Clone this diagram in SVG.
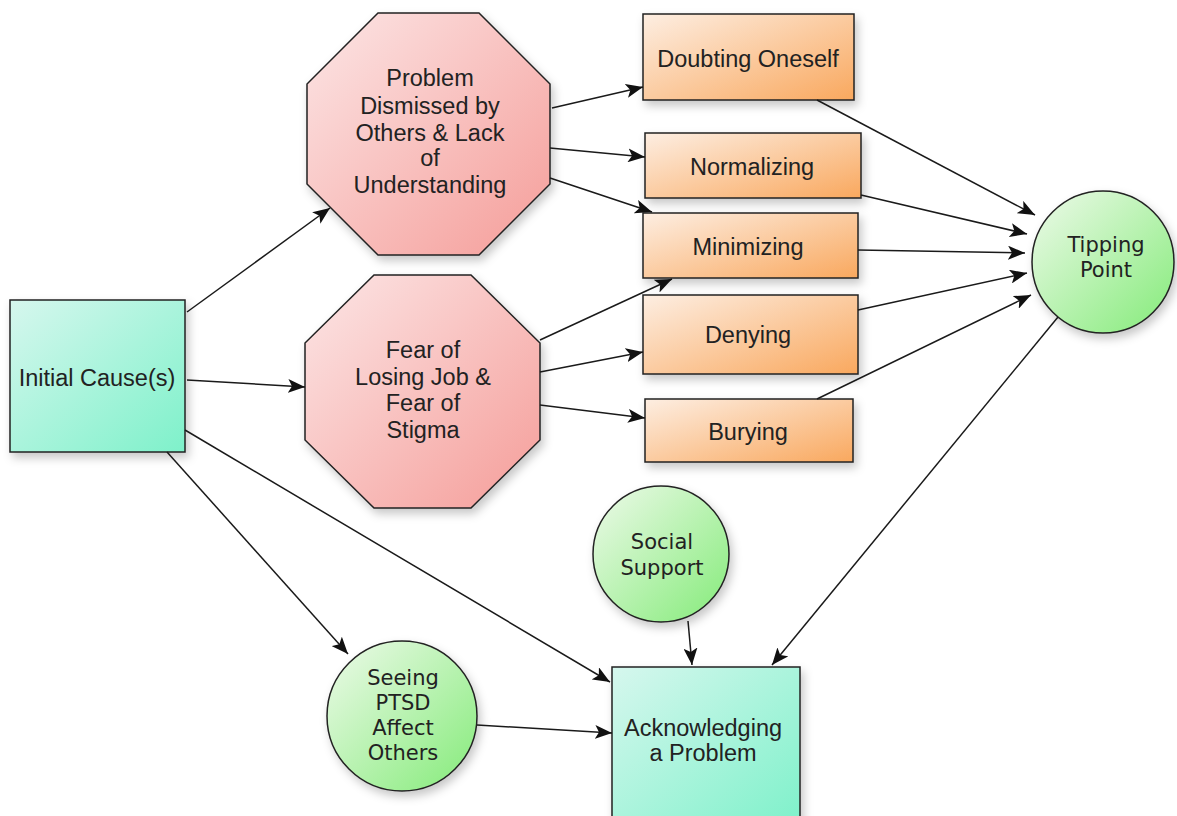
<svg xmlns="http://www.w3.org/2000/svg" width="1177" height="816" viewBox="0 0 1177 816">
<defs>
<linearGradient id="gTeal" x1="0" y1="0" x2="1" y2="1"><stop offset="0" stop-color="#d6f7ee"/><stop offset="1" stop-color="#7ef1ca"/></linearGradient>
<linearGradient id="gPink" x1="0" y1="0" x2="1" y2="1"><stop offset="0" stop-color="#fce6e6"/><stop offset="1" stop-color="#f59d99"/></linearGradient>
<linearGradient id="gOrange" x1="0" y1="0" x2="1" y2="1"><stop offset="0" stop-color="#fdeee2"/><stop offset="1" stop-color="#f9a85e"/></linearGradient>
<linearGradient id="gGreen" x1="0" y1="0" x2="1" y2="1"><stop offset="0" stop-color="#eefaea"/><stop offset="1" stop-color="#84eb79"/></linearGradient>
<filter id="sh" x="-20%" y="-20%" width="150%" height="150%"><feDropShadow dx="3" dy="5" stdDeviation="5" flood-color="#000" flood-opacity="0.22"/></filter>
<marker id="arr" markerUnits="userSpaceOnUse" markerWidth="18" markerHeight="14" refX="17" refY="7" orient="auto"><path d="M0,0 L17,7 L0,14 L4,7 z" fill="#111"/></marker>
<style>
.box{stroke:#222;stroke-width:1.5;filter:url(#sh)}
.teal{fill:url(#gTeal)}
.pink{fill:url(#gPink)}
.orange{fill:url(#gOrange)}
.green{fill:url(#gGreen)}
.t{font-family:"Liberation Sans",Arial,sans-serif;font-size:23.5px;fill:#222;text-anchor:middle}
.tc{font-family:"DejaVu Sans","Liberation Sans",sans-serif;font-size:21px;fill:#222;text-anchor:middle}
.c line{stroke:#1a1a1a;stroke-width:1.5;marker-end:url(#arr)}
</style>
</defs>
<rect width="1177" height="816" fill="#fff"/>
<g id="initial"><rect class="box teal" x="10" y="300" width="175" height="152"/><text class="t" x="97" y="386">Initial Cause(s)</text></g>
<g id="dismissed"><polygon class="box pink" points="378,13 479,13 550,84 550,184 479,255 378,255 307,184 307,84"/>
<text class="t" x="430" y="86">Problem</text><text class="t" x="430" y="114">Dismissed by</text><text class="t" x="430" y="141">Others &amp; Lack</text><text class="t" x="430" y="166">of</text><text class="t" x="430" y="193">Understanding</text></g>
<g id="fear"><polygon class="box pink" points="374,275 471,275 540,343 540,440 471,508 374,508 305,440 305,343"/>
<text class="t" x="423" y="358">Fear of</text><text class="t" x="423" y="385">Losing Job &amp;</text><text class="t" x="423" y="411">Fear of</text><text class="t" x="423" y="438">Stigma</text></g>
<g id="doubting"><rect class="box orange" x="643" y="14" width="211" height="86"/><text class="t" x="748" y="67">Doubting Oneself</text></g>
<g id="normalizing"><rect class="box orange" x="645" y="133" width="216" height="65"/><text class="t" x="752" y="175">Normalizing</text></g>
<g id="minimizing"><rect class="box orange" x="643" y="213" width="215" height="65"/><text class="t" x="748" y="255">Minimizing</text></g>
<g id="denying"><rect class="box orange" x="643" y="295" width="215" height="79"/><text class="t" x="748" y="343">Denying</text></g>
<g id="burying"><rect class="box orange" x="645" y="399" width="208" height="63"/><text class="t" x="748" y="440">Burying</text></g>
<g id="tipping"><circle class="box green" cx="1103" cy="262" r="71"/><text class="tc" x="1106" y="252">Tipping</text><text class="tc" x="1106" y="277">Point</text></g>
<g id="social"><circle class="box green" cx="661" cy="554" r="68"/><text class="tc" x="662" y="549">Social</text><text class="tc" x="662" y="575">Support</text></g>
<g id="seeing"><circle class="box green" cx="402" cy="716" r="75"/><text class="tc" x="403" y="685">Seeing</text><text class="tc" x="403" y="710">PTSD</text><text class="tc" x="403" y="735">Affect</text><text class="tc" x="403" y="760">Others</text></g>
<g id="acknowledging"><rect class="box teal" x="612" y="667" width="188" height="160"/><text class="t" x="703" y="736">Acknowledging</text><text class="t" x="703" y="761">a Problem</text></g>
<g class="c" id="connectors">
<line x1="187" y1="312" x2="330" y2="208"/>
<line x1="187" y1="380" x2="305" y2="387"/>
<line x1="167" y1="452" x2="348" y2="654"/>
<line x1="185" y1="430" x2="610" y2="682"/>
<line x1="552" y1="108" x2="643" y2="87"/>
<line x1="550" y1="148" x2="645" y2="157"/>
<line x1="550" y1="178" x2="652" y2="212"/>
<line x1="540" y1="340" x2="672" y2="279"/>
<line x1="540" y1="372" x2="643" y2="352"/>
<line x1="540" y1="405" x2="645" y2="418"/>
<line x1="817" y1="100" x2="1035" y2="215"/>
<line x1="861" y1="195" x2="1027" y2="234"/>
<line x1="858" y1="250" x2="1025" y2="253"/>
<line x1="858" y1="310" x2="1027" y2="273"/>
<line x1="817" y1="399" x2="1031" y2="295"/>
<line x1="1058" y1="317" x2="772" y2="665"/>
<line x1="688" y1="621" x2="692" y2="665"/>
<line x1="477" y1="725" x2="612" y2="733"/>
</g>
</svg>
